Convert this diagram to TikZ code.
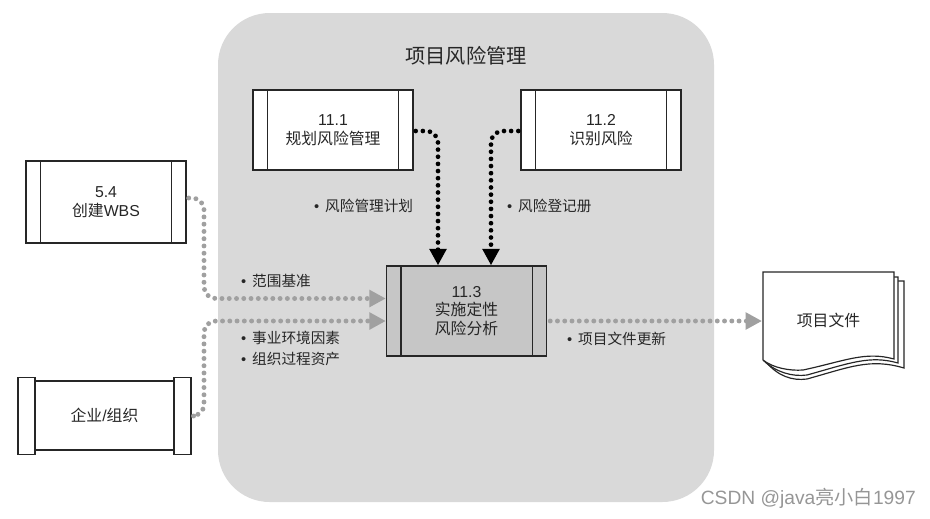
\documentclass[tikz,border=0pt]{standalone}
\usepackage{fontspec}
\setmainfont{Liberation Sans}
\newfontfamily\cjk{Noto Sans CJK SC}
\newcommand{\zh}[1]{{\cjk #1}}
\usetikzlibrary{arrows.meta, calc}
\definecolor{riskpanel}{RGB}{217, 217, 217}
\definecolor{riskbox}{RGB}{198, 198, 198}
\definecolor{riskflow}{RGB}{160, 160, 160}
\definecolor{riskink}{RGB}{38, 38, 38}
\definecolor{riskmark}{RGB}{150, 150, 150}
\tikzset{
    procbox/.style={draw=riskink, line width=1.2pt, fill=white, text=riskink, minimum height=2.4cm,
        minimum width=4.8cm, inner sep=0pt, align=center, font=\fontsize{13.5}{16}\selectfont},
    sidebox/.style={draw=riskink, line width=1.2pt, fill=white, minimum width=0.5cm, minimum height=2.32cm, inner sep=0pt},
    boxline/.style={draw=riskink, line width=1.2pt},
    flowlabel/.style={anchor=west, inner sep=0pt, text=riskink, font=\fontsize{12.5}{15}\selectfont},
    blackflow/.style={line width=4pt, dash pattern=on 0pt off 6.1pt, line cap=round, rounded corners=10pt,
        -{Triangle[length=14pt,width=14pt]}, black},
    grayflow/.style={line width=4.2pt, dash pattern=on 0pt off 6.2pt, line cap=round, rounded corners=10pt,
        -{Triangle[length=14pt,width=14pt]}, riskflow},
    sheet/.style={draw=riskink, line width=1pt, fill=white},
}
\begin{document}
\begin{tikzpicture}[x=0.03cm, y=-0.03cm]
\useasboundingbox (0,0) rectangle (930,518);

% === Panel ===
\fill[riskpanel, rounded corners=1.55cm] (218,13) rectangle (714,502);
\node[text=riskink, font=\fontsize{17.3}{20}\selectfont] (title) at (466,56) {\zh{项目风险管理}};

% === Procesos ===
\node[procbox] (planrm) at (333,130) {11.1\\\zh{规划风险管理}};
\node[procbox] (idrisk) at (601,130) {11.2\\\zh{识别风险}};
\node[procbox, fill=riskbox, minimum height=2.7cm] (analysis) at (466.5,311) {11.3\\\zh{实施定性}\\\zh{风险分析}};
\node[procbox, minimum height=2.47cm] (wbs) at (106,202) {5.4\\\zh{创建}WBS};

% === Lineas interiores ===
\foreach \n in {planrm,idrisk,analysis,wbs} {
    \draw[boxline] ($(\n.north west)+(15,0)$) -- ($(\n.south west)+(15,0)$);
    \draw[boxline] ($(\n.north east)+(-15,0)$) -- ($(\n.south east)+(-15,0)$);
}

% === Empresa ===
\node[procbox, minimum width=4.2cm, minimum height=2.07cm] (org) at (104.5,415.5) {\zh{企业}/\zh{组织}};
\node[sidebox] (orgleft) at (26.5,416) {};
\node[sidebox] (orgright) at (182.5,416) {};

% === Documentos ===
\draw[sheet] (770,281) -- (904,281) -- (904,368) .. controls (870,358) and (850,367) .. (807,379) .. controls (792,381) and (778,376) .. (766,362) -- cycle;
\draw[sheet] (766,277) -- (898,277) -- (898,363) .. controls (870,355) and (850,363) .. (807,375) .. controls (792,377) and (776,372) .. (764,361) -- cycle;
\draw[sheet] (763,272) -- (894,272) -- (894,359) .. controls (865,351) and (845,361) .. (803,370) .. controls (790,371) and (773,368) .. (763,360) -- cycle;
\node[text=riskink, font=\fontsize{13.5}{16}\selectfont] (docs) at (828.5,320) {\zh{项目文件}};

% === Puntos de llegada ===
\coordinate (plantip) at ($(analysis.north)+(-28.5,0)$);
\coordinate (idtip) at ($(analysis.north)+(24.5,0)$);
\coordinate (scopetip) at ($(analysis.west)+(0,-12.5)$);
\coordinate (envtip) at ($(analysis.west)+(0,10)$);
\coordinate (docstip) at (762,321);
\coordinate (leftbus) at (204,298);

% === Flujos ===
\draw[blackflow] ($(planrm.east)+(2,1)$) -| (plantip);
\draw[blackflow] ($(idrisk.west)+(-2,1)$) -| (idtip);
\draw[grayflow] ($(wbs.east)+(2,-4)$) -| (leftbus |- scopetip) -- (scopetip);
\draw[grayflow] ($(orgright.east)+(2,0)$) -| (leftbus |- envtip) -- (envtip);
\draw[grayflow] ($(analysis.east |- docstip)+(3,0)$) -- (docstip);

% === Etiquetas ===
\node[flowlabel] (planlbl) at (314,206) {\textbullet\hspace{5pt}\zh{风险管理计划}};
\node[flowlabel] (idlbl) at (507,206) {\textbullet\hspace{5pt}\zh{风险登记册}};
\node[flowlabel] (scopelbl) at (241,281) {\textbullet\hspace{5pt}\zh{范围基准}};
\node[flowlabel] (envlbl) at (241,338) {\textbullet\hspace{5pt}\zh{事业环境因素}};
\node[flowlabel] (assetlbl) at (241,358.5) {\textbullet\hspace{5pt}\zh{组织过程资产}};
\node[flowlabel] (updlbl) at (567,338.5) {\textbullet\hspace{5pt}\zh{项目文件更新}};

% === Marca ===
\node[anchor=east, inner sep=0pt, text=riskmark, font=\fontsize{16.4}{19}\selectfont] (mark) at (916,498) {CSDN @java\zh{亮小白}1997};

\end{tikzpicture}
\end{document}
